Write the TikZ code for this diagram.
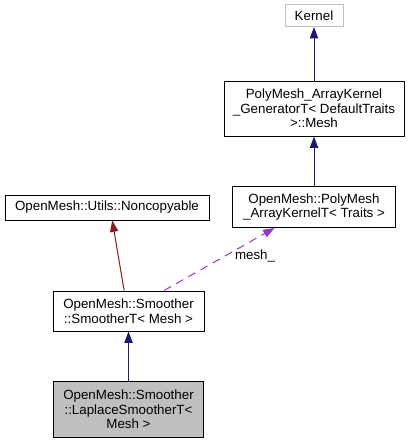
\documentclass[tikz,border=0pt]{standalone}
\usepackage{fontspec}
\setmainfont{Liberation Sans}
\usepackage{tikz}
\usetikzlibrary{arrows.meta}
\definecolor{navy}{HTML}{191970}
\definecolor{brick}{HTML}{8B1A1A}
\definecolor{orchid}{HTML}{9A32CD}
\definecolor{graybox}{HTML}{BFBFBF}
\tikzset{every node/.style={font=\fontsize{10}{11}\selectfont}}
\tikzset{cls/.style={shape=rectangle, draw=black, line width=0.75pt, inner sep=0pt, align=center}}
\tikzset{base/.style={line width=0.75pt, -{Triangle[length=8.5pt,width=6.2pt]}}}

\begin{document}
\begin{tikzpicture}[x=0.75pt, y=-0.75pt]
		\useasboundingbox (0,0) rectangle (411,443);
		\node[cls, draw=graybox, minimum width=43.5pt, minimum height=16.5pt] (A) at (314,15.5) {Kernel};
		\node[cls, minimum width=135pt, minimum height=41.25pt] (B) at (314,108.5) {PolyMesh\_ArrayKernel\\\_GeneratorT< DefaultTraits\\>::Mesh};
		\node[cls, minimum width=122.25pt, minimum height=30.75pt] (C) at (314,207) {OpenMesh::PolyMesh\\\_ArrayKernelT< Traits >};
		\node[cls, minimum width=153pt, minimum height=18.75pt] (D) at (107,207.5) {OpenMesh::Utils::Noncopyable};
		\node[cls, minimum width=113.25pt, minimum height=30pt] (E) at (128.5,311) {OpenMesh::Smoother\\::SmootherT< Mesh >};
		\node[cls, fill=graybox, minimum width=112.5pt, minimum height=42pt] (F) at (128.5,409.5) {OpenMesh::Smoother\\::LaplaceSmootherT<\\Mesh >};
		\path [base, navy] (B) edge (A);
		\path [base, navy] (C) edge (B);
		\path [base, brick] (E.102.7) edge (D.-68);
		\path [base, orchid, dash pattern=on 6pt off 4.5pt] (E.30) edge node[pos=0.55, right=4pt, text=black]{mesh\_} (C.208);
		\path [base, navy] (F) edge (E);
	\end{tikzpicture}
\end{document}
